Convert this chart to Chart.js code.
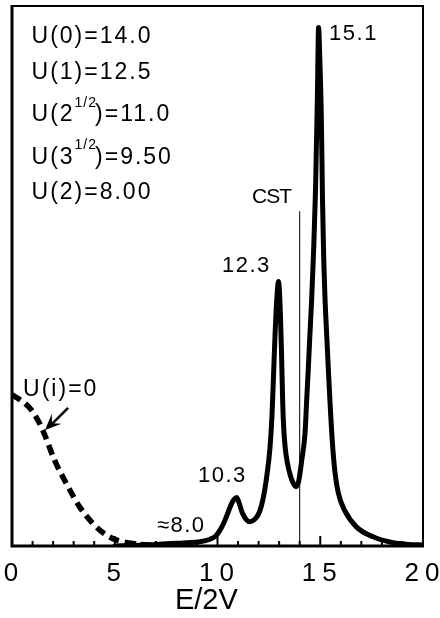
<!DOCTYPE html>
<html><head><meta charset="utf-8">
<script src="https://cdn.jsdelivr.net/npm/chart.js@4/dist/chart.umd.min.js"></script>
<style>html,body{margin:0;padding:0;background:#fff}canvas{display:block}</style>
</head><body>
<canvas id="c" width="440" height="618"></canvas>
<script>
// ---- data ----
const solidE = [5, 6, 7, 8, 8.5, 9.15, 9.6, 9.9, 10.1, 10.3, 10.5, 10.7, 10.8, 10.93, 11.05, 11.2, 11.4, 11.58, 11.8, 12.03, 12.23, 12.4, 12.55, 12.65, 12.73, 12.81, 12.89, 12.97, 13.06, 13.12, 13.17, 13.22, 13.3, 13.4, 13.55, 13.7, 13.82, 13.95, 14.1, 14.26, 14.34, 14.42, 14.5, 14.58, 14.68, 14.77, 14.86, 14.92, 14.98, 15.05, 15.11, 15.17, 15.23, 15.31, 15.39, 15.47, 15.56, 15.69, 15.88, 16.2, 16.77, 17.57, 18.55, 19.3, 20];
const solidI = [0, 0.001, 0.003, 0.005, 0.006, 0.008, 0.012, 0.018, 0.028, 0.042, 0.061, 0.08, 0.086, 0.09, 0.08, 0.062, 0.049, 0.045, 0.049, 0.062, 0.09, 0.13, 0.18, 0.24, 0.32, 0.4, 0.46, 0.49, 0.43, 0.35, 0.27, 0.22, 0.18, 0.154, 0.13, 0.115, 0.11, 0.12, 0.159, 0.209, 0.27, 0.33, 0.394, 0.455, 0.55, 0.66, 0.83, 0.96, 0.9, 0.8, 0.64, 0.53, 0.46, 0.394, 0.33, 0.27, 0.209, 0.146, 0.098, 0.065, 0.035, 0.017, 0.006, 0.003, 0.002];
const dashE = [0, 0.5, 0.94, 1.3, 1.6, 2.07, 2.64, 3.3, 3.93, 4.6, 5.1, 6, 7];
const dashI = [0.28, 0.268, 0.252, 0.23, 0.205, 0.159, 0.116, 0.072, 0.042, 0.02, 0.011, 0.004, 0.001];
const cstE = [14.0, 14.0];
const cstI = [0, 0.62];
const xMin = 0, xMax = 20, xLabelStep = 5, xMinorStep = 1;
const axisTitle = "E/2V";
const paramLabels = ["U(0)=14.0", "U(1)=12.5", ["U(2", "1/2", ")=11.0"], ["U(3", "1/2", ")=9.50"], "U(2)=8.00"];
const peakLabels = ["15.1", "12.3", "10.3", "\u22488.0"];
const cstLabel = "CST";
const zeroLabel = "U(i)=0";

const toPts = (xs, ys) => xs.map((x, i) => ({x: x, y: ys[i]}));
const FONT = "'Liberation Sans', Arial, Helvetica, sans-serif";

const overlay = {
  id: 'overlay',
  beforeDraw(chart) { chart.ctx.letterSpacing = '6px'; },
  beforeDatasetsDraw(chart) { chart.ctx.letterSpacing = '0px'; },
  afterDraw(chart) {
    const ctx = chart.ctx, xs = chart.scales.x, ys = chart.scales.y;
    const {left, right, top, bottom} = chart.chartArea;
    const X = v => xs.getPixelForValue(v), Y = v => ys.getPixelForValue(v);
    ctx.save();
    ctx.strokeStyle = '#000'; ctx.fillStyle = '#000';
    // frame
    ctx.lineWidth = 2;
    ctx.beginPath(); ctx.moveTo(left, top); ctx.lineTo(right, top); ctx.lineTo(right, bottom); ctx.stroke();
    ctx.lineWidth = 3;
    ctx.beginPath(); ctx.moveTo(left, top - 1); ctx.lineTo(left, bottom); ctx.lineTo(right + 1, bottom); ctx.stroke();
    // inward ticks
    ctx.lineWidth = 2;
    for (let v = xMin + xMinorStep; v < xMax; v += xMinorStep) {
      const len = (v % xLabelStep === 0) ? 10 : 5;
      const px = X(v);
      ctx.beginPath(); ctx.moveTo(px, bottom); ctx.lineTo(px, bottom - len); ctx.stroke();
    }
    // axis title
    ctx.letterSpacing = '0px';
    ctx.textBaseline = 'middle';
    ctx.textAlign = 'center';
    ctx.font = '29px ' + FONT;
    ctx.fillText(axisTitle, X(9.46), 601);
    // text annotations
    ctx.textAlign = 'left';
    ctx.letterSpacing = '2px';
    ctx.font = '23px ' + FONT;
    const pY = [0.943, 0.876, 0.798, 0.720, 0.654];
    paramLabels.forEach((lab, i) => {
      const y = Y(pY[i]);
      let x = X(0.95);
      if (typeof lab === 'string') { ctx.fillText(lab, x, y); return; }
      ctx.font = '23px ' + FONT; ctx.fillText(lab[0], x, y); x += ctx.measureText(lab[0]).width;
      ctx.font = '14px ' + FONT; ctx.letterSpacing = '1px'; ctx.fillText(lab[1], x, y - 12); x += ctx.measureText(lab[1]).width - 2;
      ctx.font = '23px ' + FONT; ctx.letterSpacing = '2px'; ctx.fillText(lab[2], x, y);
    });
    ctx.font = '22px ' + FONT; ctx.letterSpacing = '1.5px';
    ctx.fillText(peakLabels[0], X(15.43), Y(0.949));
    ctx.fillText(peakLabels[1], X(10.22), Y(0.519));
    ctx.fillText(peakLabels[2], X(9.05), Y(0.13));
    ctx.fillText(peakLabels[3], X(7.05), Y(0.037));
    ctx.font = '21px ' + FONT; ctx.letterSpacing = '-1px';
    ctx.fillText(cstLabel, X(11.68), Y(0.645));
    ctx.font = '23px ' + FONT; ctx.letterSpacing = '2px';
    ctx.fillText(zeroLabel, X(0.54), Y(0.289));
    // arrow
    const tx = X(1.61), ty = Y(0.215), sx = X(2.73), sy = Y(0.256);
    ctx.lineWidth = 2.5;
    ctx.beginPath(); ctx.moveTo(sx, sy); ctx.lineTo(tx + 6, ty - 5); ctx.stroke();
    const ang = Math.atan2(ty - sy, tx - sx);
    const L = 16, W = 7;
    const bx = tx - L * Math.cos(ang), by = ty - L * Math.sin(ang);
    const nx = -Math.sin(ang), ny = Math.cos(ang);
    const mx = tx - 0.6 * L * Math.cos(ang), my = ty - 0.6 * L * Math.sin(ang);
    ctx.beginPath();
    ctx.moveTo(tx, ty);
    ctx.lineTo(bx + nx * W, by + ny * W);
    ctx.lineTo(mx, my);
    ctx.lineTo(bx - nx * W, by - ny * W);
    ctx.closePath(); ctx.fill();
    ctx.restore();
  }
};

new Chart(document.getElementById('c'), {
  type: 'line',
  data: {
    datasets: [
      { data: toPts(solidE, solidI), borderColor: '#000', borderWidth: 5, pointRadius: 0,
        cubicInterpolationMode: 'monotone', borderJoinStyle: 'round', borderCapStyle: 'round', fill: false },
      { data: toPts(dashE, dashI), borderColor: '#000', borderWidth: 5.5, pointRadius: 0,
        cubicInterpolationMode: 'monotone', borderDash: [10, 6], fill: false },
      { data: toPts(cstE, cstI), borderColor: '#000', borderWidth: 1, pointRadius: 0, tension: 0, fill: false }
    ]
  },
  options: {
    responsive: false, animation: false, devicePixelRatio: 1,
    layout: { padding: { left: 12, right: 17, top: 6, bottom: 0 } },
    plugins: { legend: { display: false }, tooltip: { enabled: false } },
    scales: {
      x: {
        type: 'linear', min: xMin, max: xMax,
        grid: { display: false, drawTicks: false },
        border: { display: false },
        ticks: { stepSize: xLabelStep, color: '#000', padding: 12, maxRotation: 0, labelOffset: 2,
                 font: { size: 26, family: FONT } },
        afterFit: s => { s.height = 72; s.paddingLeft = 0; s.paddingRight = 0; }
      },
      y: { display: false, min: 0, max: 1 }
    }
  },
  plugins: [overlay]
});
</script>
</body></html>
